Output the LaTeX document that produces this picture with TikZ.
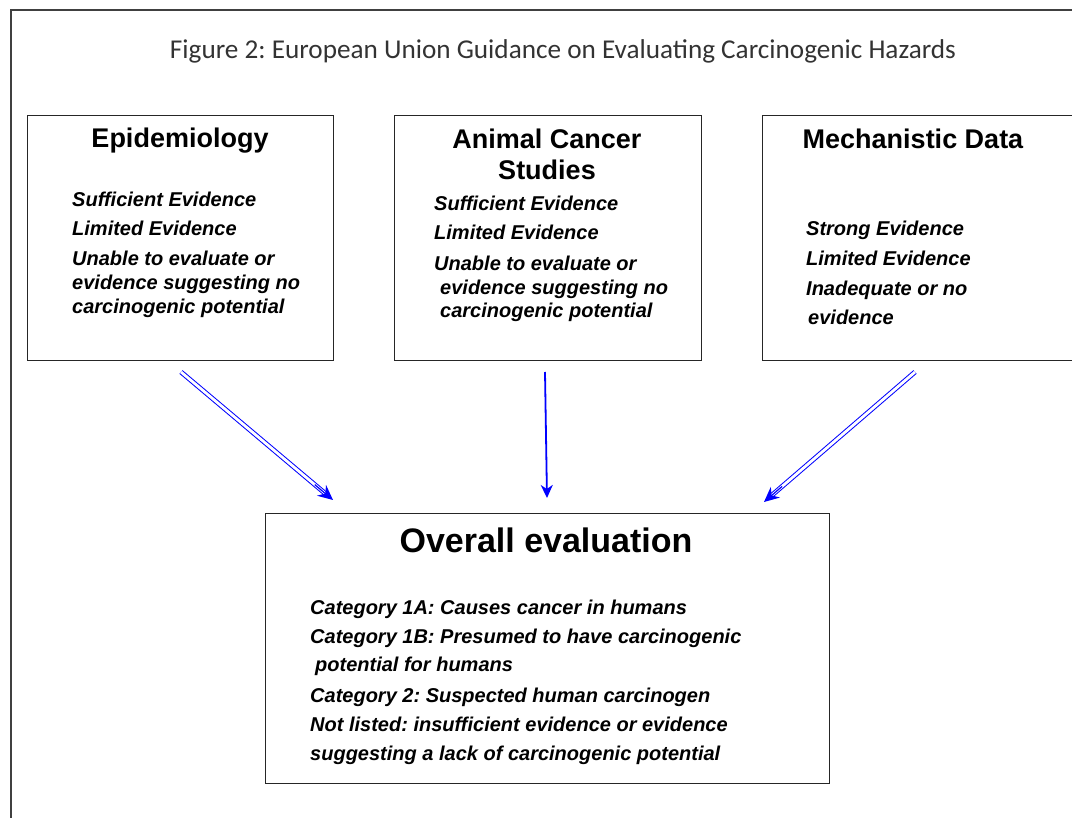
\documentclass[tikz,border=0pt]{standalone}
\usepackage{fontspec}
\setmainfont{Liberation Sans}
\newfontfamily\titlefont{Carlito}
\usetikzlibrary{arrows.meta,calc}
\frenchspacing
\begin{document}
\frenchspacing
\begin{tikzpicture}[x=1pt,y=-1pt,
  frame/.style={draw=black!75, line width=1.2pt},
  box/.style={draw=black!85, line width=1.4pt, inner sep=0pt, anchor=north west},
  ttl/.style={font=\titlefont\fontsize{27.2}{30}\selectfont, text=black!80, anchor=base, inner sep=0pt},
  head/.style={font=\fontsize{27}{32}\selectfont\bfseries, anchor=base, inner sep=0pt},
  bighead/.style={font=\fontsize{34}{40}\selectfont\bfseries, anchor=base, inner sep=0pt},
  item/.style={font=\fontsize{20}{24}\selectfont\bfseries\itshape, anchor=base west, inner sep=0pt},
  dblshaft/.style={draw=blue, line width=1pt, double=white, double distance=2.8pt, shorten >=8pt},
  dbltip/.style={draw=blue, line width=1.2pt, -{Stealth[length=15pt,width=14pt,inset=5pt]}},
  sglarrow/.style={draw=blue, line width=1.8pt, -{Stealth[length=13pt,width=12pt,inset=4pt]}}
]
\useasboundingbox (0,0) rectangle (1072,818);
\begin{scope}
\clip (0,0) rectangle (1072,818);
\draw[frame] (11,840) -- (11,10) -- (1090,10);

\node[ttl] (title) at (563,59) {Figure 2: European Union Guidance on Evaluating Carcinogenic Hazards};

% boxes
\node[box, minimum width=306pt, minimum height=245pt] (epi) at (27,115) {};
\node[box, minimum width=307pt, minimum height=245pt] (ani) at (394,115) {};
\node[box, minimum width=340pt, minimum height=245pt] (mech) at (762,115) {};
\node[box, minimum width=564pt, minimum height=270pt] (over) at (265,513) {};

% Epidemiology
\node[head] (epih) at (180,148) {Epidemiology};
\node[item] (epi1) at (72,207) {Sufficient Evidence};
\node[item] (epi2) at (72,236) {Limited Evidence};
\node[item] (epi3) at (72,266) {Unable to evaluate or};
\node[item] (epi4) at (72,290) {evidence suggesting no};
\node[item] (epi5) at (72,314) {carcinogenic potential};

% Animal
\node[head] (anih1) at (547,149) {Animal Cancer};
\node[head] (anih2) at (547,180) {Studies};
\node[item] (ani1) at (434,211) {Sufficient Evidence};
\node[item] (ani2) at (434,240) {Limited Evidence};
\node[item] (ani3) at (434,271) {Unable to evaluate or};
\node[item] (ani4) at (440,295) {evidence suggesting no};
\node[item] (ani5) at (440,318) {carcinogenic potential};

% Mechanistic
\node[head] (mechh) at (913,149) {Mechanistic Data};
\node[item] (mech1) at (806,236) {Strong Evidence};
\node[item] (mech2) at (806,266) {Limited Evidence};
\node[item] (mech3) at (806,296) {Inadequate or no};
\node[item] (mech4) at (808,325) {evidence};

% Overall
\node[bighead] (overh) at (546,552) {Overall evaluation};
\node[item] (ov1) at (310,614) {Category 1A: Causes cancer in humans};
\node[item] (ov2) at (310,643) {Category 1B: Presumed to have carcinogenic};
\node[item] (ov3) at (315,671) {potential for humans};
\node[item] (ov4) at (310,702) {Category 2: Suspected human carcinogen};
\node[item] (ov5) at (310,731) {Not listed: insufficient evidence or evidence};
\node[item] (ov6) at (310,760) {suggesting a lack of carcinogenic potential};

% arrows
\coordinate (a1s) at (181,372);
\coordinate (a1e) at (333,500);
\coordinate (a2s) at (545,372);
\coordinate (a2e) at (547,498);
\coordinate (a3s) at (915,372);
\coordinate (a3e) at (764,502);
\draw[dblshaft] (a1s) -- (a1e);
\draw[dbltip] ($(a1s)!0.88!(a1e)$) -- (a1e);
\draw[sglarrow] (a2s) -- (a2e);
\draw[dblshaft] (a3s) -- (a3e);
\draw[dbltip] ($(a3s)!0.88!(a3e)$) -- (a3e);
\end{scope}
\end{tikzpicture}
\end{document}
